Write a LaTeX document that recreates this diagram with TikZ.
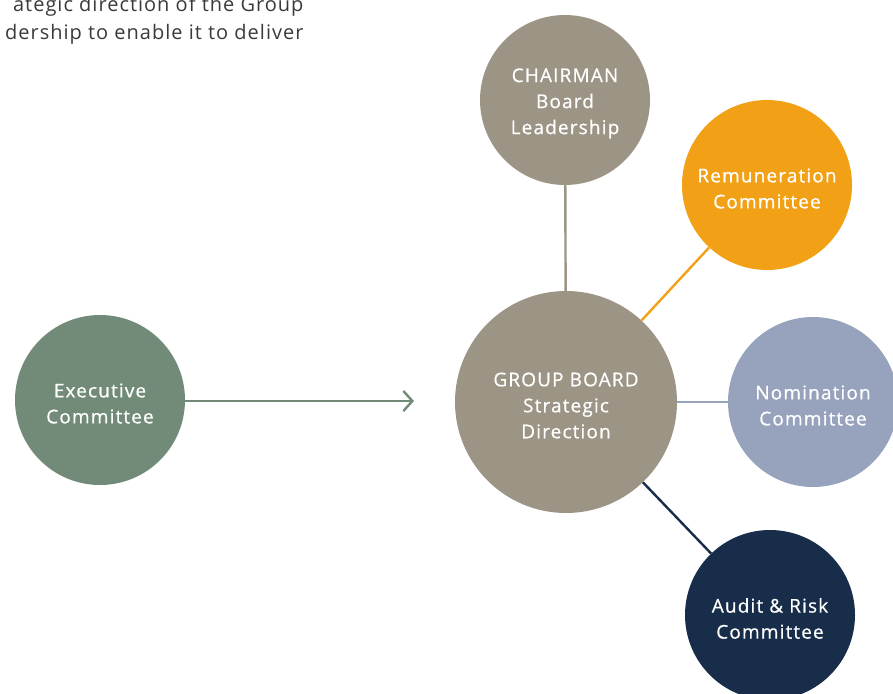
\documentclass[tikz,border=0pt]{standalone}
\usepackage{fontspec}
\setmainfont{Open Sans}
\newfontfamily\bubfont{Open Sans}[LetterSpace=6,FakeBold=0.6]
\newfontfamily\intfont{Open Sans}[LetterSpace=5]
\usetikzlibrary{arrows.meta}
\definecolor{cgray}{HTML}{9C9586}
\definecolor{corange}{HTML}{F2A116}
\definecolor{cnom}{HTML}{97A3BD}
\definecolor{cnavy}{HTML}{172D4A}
\definecolor{cgreen}{HTML}{718B78}
\definecolor{ctext}{HTML}{3A3A3A}
\begin{document}
\begin{tikzpicture}[x=1pt,y=-1pt,
  bubble/.style={circle,inner sep=0pt,minimum size=170pt,text=white,align=center,
    font=\bubfont\fontsize{19}{26}\selectfont},
  bigbubble/.style={bubble,minimum size=222pt},
  btext/.style={text=white,align=center,font=\bubfont\fontsize{19}{26}\selectfont,yshift=-3.5pt},
  intro/.style={anchor=base east,text=ctext,font=\intfont\fontsize{20}{28}\selectfont},
  link/.style={line width=2.4pt}]
\useasboundingbox (0,0) rectangle (893,693);
\clip (0,0) rectangle (893,693);
\node[intro] (introa) at (307,12) {ategic direction of the Group};
\node[intro] (introb) at (307,40) {dership to enable it to deliver};
\node[bubble,fill=cgreen] (exec) at (100,400) {};
\node[bigbubble,fill=cgray] (board) at (566,402) {};
\node[bubble,fill=cgray] (chair) at (565,100) {};
\node[bubble,fill=corange] (remu) at (767,185) {};
\node[bubble,fill=cnom] (nom) at (813,402) {};
\node[bubble,fill=cnavy] (audit) at (770,615) {};
\node[btext] (exect) at (exec) {Executive\\Committee};
\node[btext] (boardt) at (board) {GROUP BOARD\\Strategic\\Direction};
\node[btext] (chairt) at (chair) {CHAIRMAN\\Board\\Leadership};
\node[btext] (remut) at (remu) {Remuneration\\Committee};
\node[btext] (nomt) at (nom) {Nomination\\Committee};
\node[btext] (auditt) at (audit) {Audit \& Risk\\Committee};
\coordinate (arrend) at (414,401);
\draw[link,cgreen,-{Straight Barb[length=9pt,width=20pt,line width=2.4pt]}] (exec.east |- arrend) -- (arrend);
\draw[link,cgray] (chair) -- (board);
\draw[link,corange] (remu) -- (board);
\draw[link,cnom] (nom) -- (board);
\draw[link,cnavy] (audit) -- (board);
\end{tikzpicture}
\end{document}
